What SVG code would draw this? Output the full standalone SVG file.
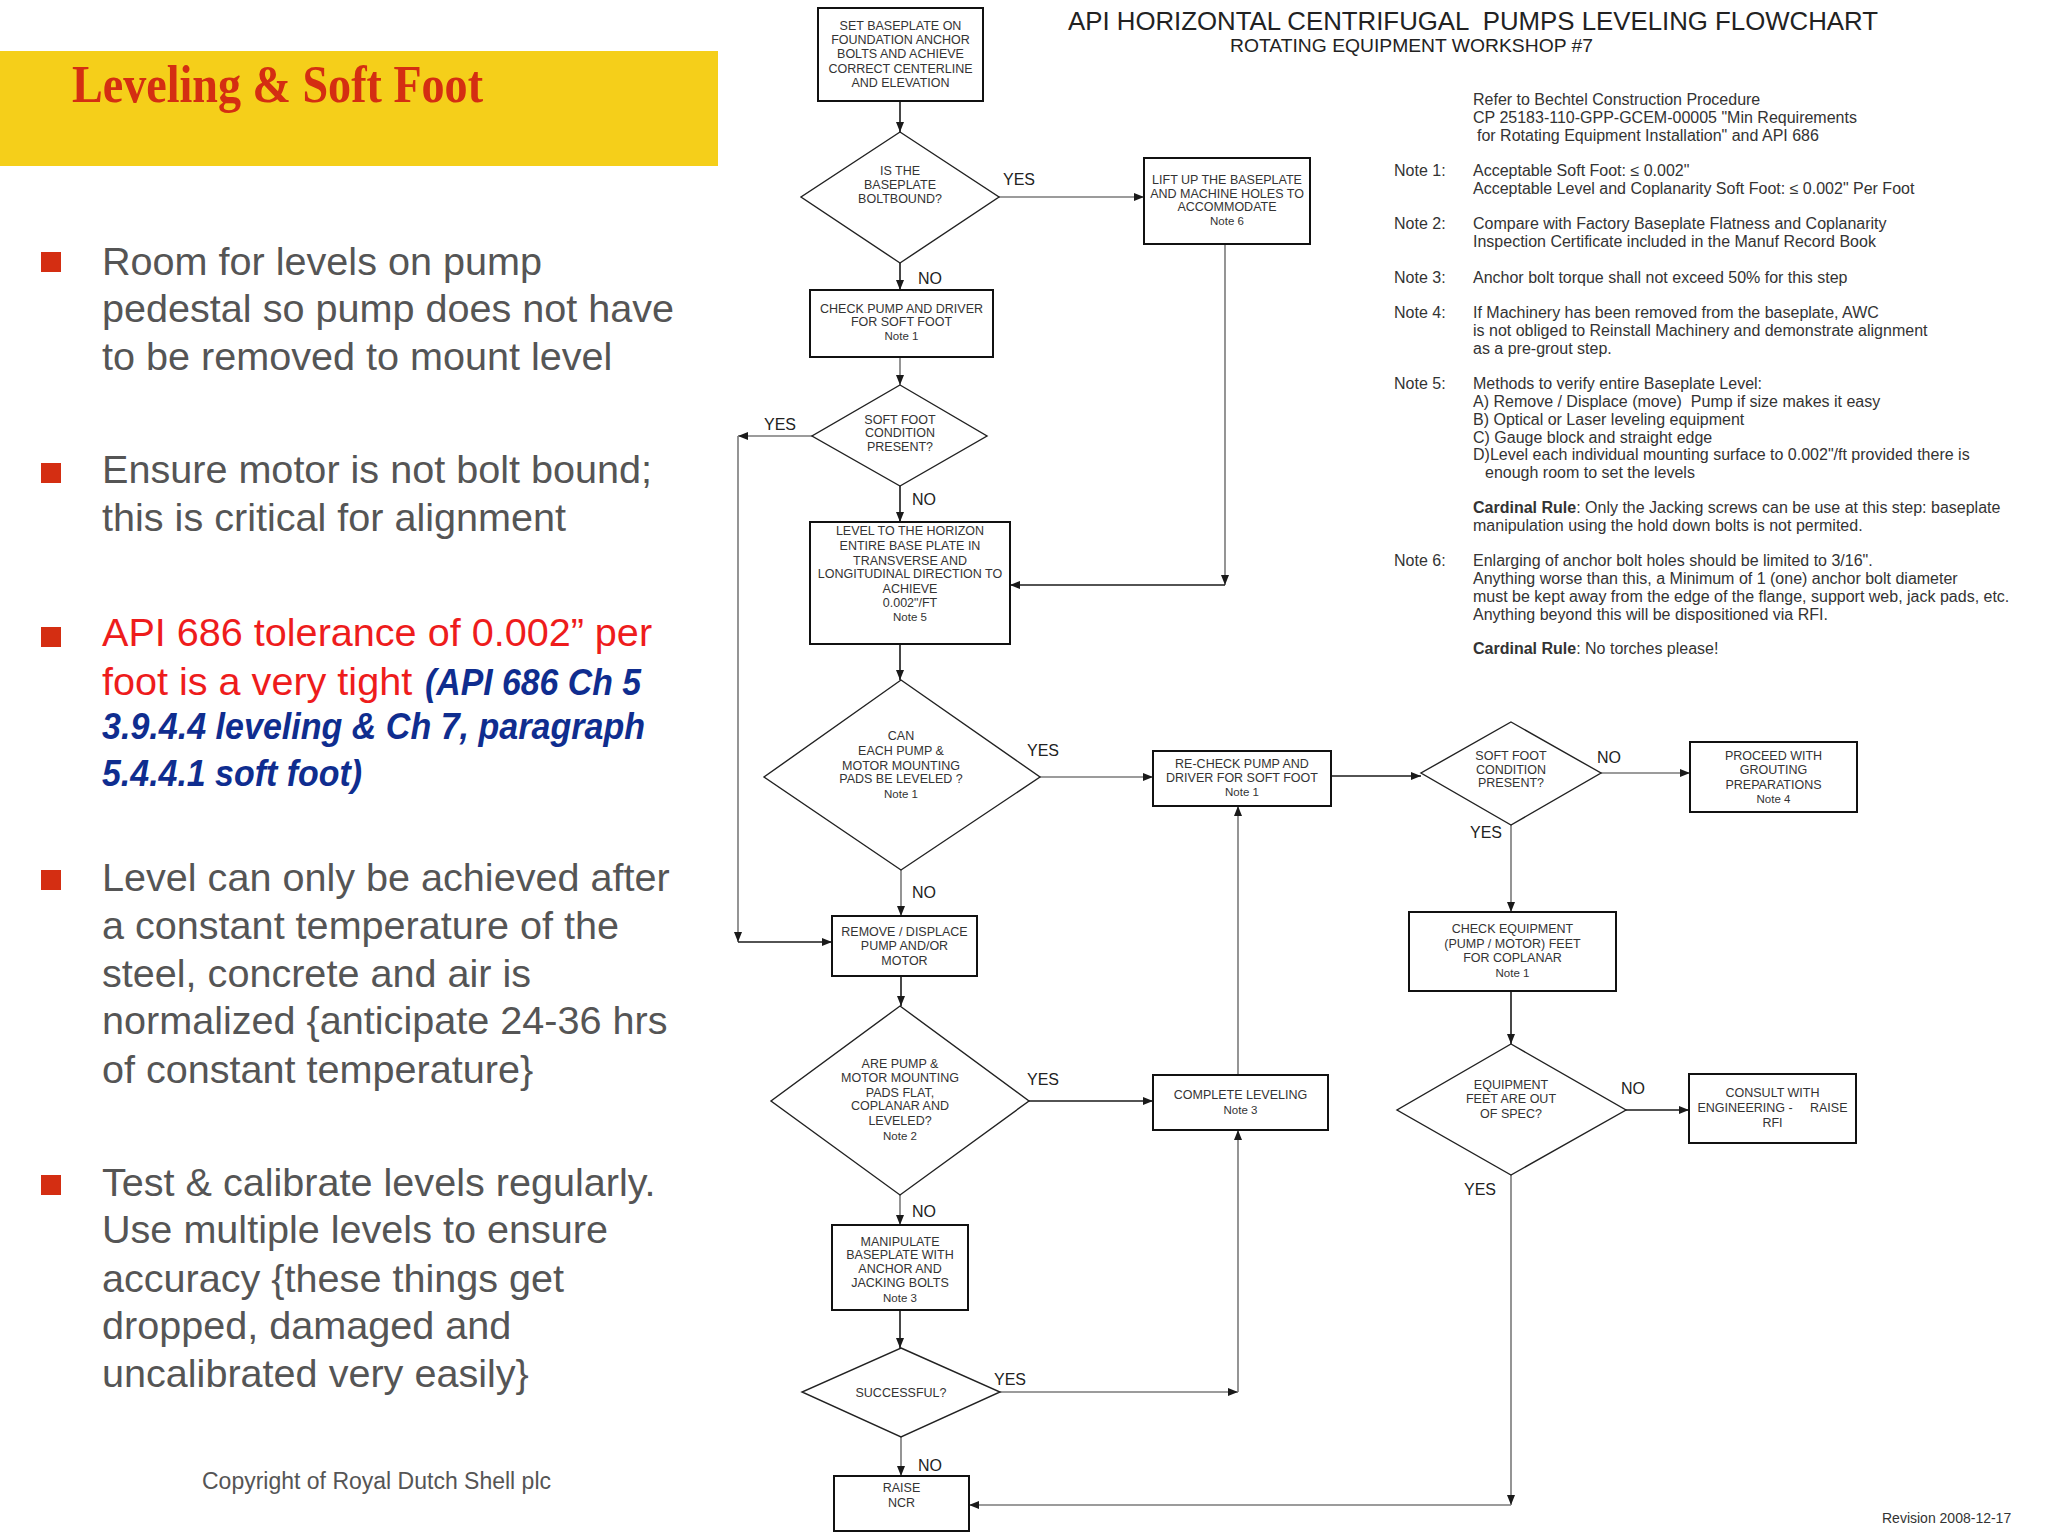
<svg xmlns="http://www.w3.org/2000/svg" width="2048" height="1536" viewBox="0 0 2048 1536">
<defs>
<marker id="ah" markerUnits="userSpaceOnUse" markerWidth="10" markerHeight="8" refX="10" refY="4" orient="auto"><path d="M0,0 L10,4 L0,8 z" fill="#1a1a1a"/></marker>
<style>
.box{fill:#fff;stroke:#111;stroke-width:2}
.dia{fill:#fff;stroke:#222;stroke-width:1.4}
.nt{font-family:"Liberation Sans",Arial,sans-serif;font-size:12.5px;fill:#333;text-anchor:middle}
.lbl{font-family:"Liberation Sans",Arial,sans-serif;font-size:16px;fill:#222}
.note{font-family:"Liberation Sans",Arial,sans-serif;font-size:16px;fill:#333}
.cd{stroke:#1a1a1a;stroke-width:1.6;fill:none;marker-end:url(#ah)}
.cg{stroke:#7a7a7a;stroke-width:1.6;fill:none;marker-end:url(#ah)}
.bul{font-family:"Liberation Sans",Arial,sans-serif;font-size:39.6px;fill:#555}
.sq{fill:#d42e12}
.ref{fill:#0f2d8f;font-weight:bold;font-style:italic;font-size:36px}
</style>
</defs>
<rect width="2048" height="1536" fill="#fff"/>
<g id="left-panel">
<rect x="0" y="51" width="718" height="115" fill="#f5cf1a"/>
<text x="72" y="102" font-family="'Liberation Serif',Georgia,serif" font-size="52" font-weight="bold" fill="#d42e12" textLength="411" lengthAdjust="spacingAndGlyphs">Leveling &amp; Soft Foot</text>
<rect class="sq" x="41" y="252" width="20" height="20"/>
<text class="bul"><tspan x="102" y="275">Room for levels on pump</tspan><tspan x="102" y="322">pedestal so pump does not have</tspan><tspan x="102" y="370">to be removed to mount level</tspan></text>
<rect class="sq" x="41" y="463" width="20" height="20"/>
<text class="bul"><tspan x="102" y="483">Ensure motor is not bolt bound;</tspan><tspan x="102" y="531">this is critical for alignment</tspan></text>
<rect class="sq" x="41" y="627" width="20" height="20"/>
<text class="bul"><tspan x="102" y="646" fill="#ee1c1c">API 686 tolerance of 0.002” per</tspan><tspan x="102" y="695" fill="#ee1c1c">foot is a very tight </tspan><tspan x="425" y="695" class="ref" textLength="216" lengthAdjust="spacingAndGlyphs">(API 686 Ch 5</tspan></text>
<text class="bul"><tspan x="102" y="739" class="ref" textLength="543" lengthAdjust="spacingAndGlyphs">3.9.4.4 leveling &amp; Ch 7, paragraph</tspan></text>
<text class="bul"><tspan x="102" y="786" class="ref" textLength="260" lengthAdjust="spacingAndGlyphs">5.4.4.1 soft foot)</tspan></text>
<rect class="sq" x="41" y="870" width="20" height="20"/>
<text class="bul"><tspan x="102" y="891">Level can only be achieved after</tspan><tspan x="102" y="939">a constant temperature of the</tspan><tspan x="102" y="987">steel, concrete and air is</tspan><tspan x="102" y="1034">normalized {anticipate 24-36 hrs</tspan><tspan x="102" y="1083">of constant temperature}</tspan></text>
<rect class="sq" x="41" y="1175" width="20" height="20"/>
<text class="bul"><tspan x="102" y="1196">Test &amp; calibrate levels regularly.</tspan><tspan x="102" y="1243">Use multiple levels to ensure</tspan><tspan x="102" y="1292">accuracy {these things get</tspan><tspan x="102" y="1339">dropped, damaged and</tspan><tspan x="102" y="1387">uncalibrated very easily}</tspan></text>
<text x="202" y="1489" font-family="'Liberation Sans',Arial,sans-serif" font-size="23" fill="#555">Copyright of Royal Dutch Shell plc</text>
</g>
<g id="chart-title">
<text x="1068" y="30" font-family="'Liberation Sans',Arial,sans-serif" font-size="25" fill="#222" textLength="810" lengthAdjust="spacingAndGlyphs" style="white-space:pre">API HORIZONTAL CENTRIFUGAL  PUMPS LEVELING FLOWCHART</text>
<text x="1230" y="52" font-family="'Liberation Sans',Arial,sans-serif" font-size="18" fill="#222" textLength="363" lengthAdjust="spacingAndGlyphs">ROTATING EQUIPMENT WORKSHOP #7</text>
</g>
<g id="notes" class="note">
<text x="1473" y="105">Refer to Bechtel Construction Procedure</text>
<text x="1473" y="123">CP 25183-110-GPP-GCEM-00005 "Min Requirements</text>
<text x="1477" y="141">for Rotating Equipment Installation" and API 686</text>
<text x="1394" y="176">Note 1:</text>
<text x="1473" y="176">Acceptable Soft Foot: ≤ 0.002"</text>
<text x="1473" y="194">Acceptable Level and Coplanarity Soft Foot: ≤ 0.002" Per Foot</text>
<text x="1394" y="229">Note 2:</text>
<text x="1473" y="229">Compare with Factory Baseplate Flatness and Coplanarity</text>
<text x="1473" y="247">Inspection Certificate included in the Manuf Record Book</text>
<text x="1394" y="283">Note 3:</text>
<text x="1473" y="283">Anchor bolt torque shall not exceed 50% for this step</text>
<text x="1394" y="318">Note 4:</text>
<text x="1473" y="318">If Machinery has been removed from the baseplate, AWC</text>
<text x="1473" y="336">is not obliged to Reinstall Machinery and demonstrate alignment</text>
<text x="1473" y="354">as a pre-grout step.</text>
<text x="1394" y="389">Note 5:</text>
<text x="1473" y="389">Methods to verify entire Baseplate Level:</text>
<text x="1473" y="407" style="white-space:pre">A) Remove / Displace (move)  Pump if size makes it easy</text>
<text x="1473" y="425">B) Optical or Laser leveling equipment</text>
<text x="1473" y="443">C) Gauge block and straight edge</text>
<text x="1473" y="460">D)Level each individual mounting surface to 0.002"/ft provided there is</text>
<text x="1485" y="478">enough room to set the levels</text>
<text x="1473" y="513"><tspan font-weight="bold">Cardinal Rule</tspan>: Only the Jacking screws can be use at this step: baseplate</text>
<text x="1473" y="531">manipulation using the hold down bolts is not permited.</text>
<text x="1394" y="566">Note 6:</text>
<text x="1473" y="566">Enlarging of anchor bolt holes should be limited to 3/16".</text>
<text x="1473" y="584">Anything worse than this, a Minimum of 1 (one) anchor bolt diameter</text>
<text x="1473" y="602">must be kept away from the edge of the flange, support web, jack pads, etc.</text>
<text x="1473" y="620">Anything beyond this will be dispositioned via RFI.</text>
<text x="1473" y="654"><tspan font-weight="bold">Cardinal Rule</tspan>: No torches please!</text>
<text x="1882" y="1523" font-size="14">Revision 2008-12-17</text>
</g>
<g id="connectors">
<path class="cd" d="M900,101 V132"/>
<path class="cg" d="M999,197 H1144"/>
<path class="cd" d="M900,263 V290"/>
<path class="cg" d="M900,357 V385"/>
<path class="cg" d="M812,436 H738"/>
<path class="cg" d="M738,436 V942"/>
<path class="cd" d="M738,942 H832"/>
<path class="cd" d="M900,486 V522"/>
<path class="cg" d="M1225,244 V585"/>
<path class="cd" d="M1225,585 H1010"/>
<path class="cd" d="M900,644 V680"/>
<path class="cg" d="M1040,777 H1153"/>
<path class="cd" d="M1331,776 H1421"/>
<path class="cg" d="M1601,773 H1690"/>
<path class="cg" d="M1511,825 V912"/>
<path class="cd" d="M1511,991 V1044"/>
<path class="cd" d="M1626,1110 H1689"/>
<path class="cg" d="M1511,1175 V1505"/>
<path class="cg" d="M1511,1505 H969"/>
<path class="cg" d="M901,870 V916"/>
<path class="cd" d="M901,976 V1006"/>
<path class="cd" d="M1029,1101 H1153"/>
<path class="cg" d="M1238,1075 V806"/>
<path class="cg" d="M900,1195 V1225"/>
<path class="cd" d="M900,1310 V1348"/>
<path class="cg" d="M1000,1392 H1238"/>
<path class="cg" d="M1238,1392 V1130"/>
<path class="cg" d="M901,1437 V1476"/>
</g>
<g id="edge-labels" class="lbl">
<text x="1003" y="185">YES</text>
<text x="918" y="284">NO</text>
<text x="764" y="430">YES</text>
<text x="912" y="505">NO</text>
<text x="1027" y="756">YES</text>
<text x="912" y="898">NO</text>
<text x="1597" y="763">NO</text>
<text x="1470" y="838">YES</text>
<text x="1621" y="1094">NO</text>
<text x="1464" y="1195">YES</text>
<text x="1027" y="1085">YES</text>
<text x="912" y="1217">NO</text>
<text x="994" y="1385">YES</text>
<text x="918" y="1471">NO</text>
</g>
<g id="n-set-baseplate"><rect class="box" x="818" y="8" width="165" height="93"/><text class="nt"><tspan x="900.5" y="30">SET BASEPLATE ON</tspan><tspan x="900.5" y="44">FOUNDATION ANCHOR</tspan><tspan x="900.5" y="58">BOLTS AND ACHIEVE</tspan><tspan x="900.5" y="72.5">CORRECT CENTERLINE</tspan><tspan x="900.5" y="87">AND ELEVATION</tspan></text></g>
<g id="n-boltbound"><polygon class="dia" points="900,132 999,197 900,263 801,197"/><text class="nt"><tspan x="900" y="174.5">IS THE</tspan><tspan x="900" y="188.5">BASEPLATE</tspan><tspan x="900" y="203">BOLTBOUND?</tspan></text></g>
<g id="n-lift"><rect class="box" x="1144" y="158" width="166" height="86"/><text class="nt"><tspan x="1227" y="183.5">LIFT UP THE BASEPLATE</tspan><tspan x="1227" y="197.5">AND MACHINE HOLES TO</tspan><tspan x="1227" y="211">ACCOMMODATE</tspan><tspan x="1227" y="225" font-size="11.5">Note 6</tspan></text></g>
<g id="n-check-pump"><rect class="box" x="810" y="290" width="183" height="67"/><text class="nt"><tspan x="901.5" y="312.5">CHECK PUMP AND DRIVER</tspan><tspan x="901.5" y="326">FOR SOFT FOOT</tspan><tspan x="901.5" y="340" font-size="11.5">Note 1</tspan></text></g>
<g id="n-softfoot-1"><polygon class="dia" points="900,385 987,436 900,486 812,436"/><text class="nt"><tspan x="900" y="423.5">SOFT FOOT</tspan><tspan x="900" y="437">CONDITION</tspan><tspan x="900" y="451">PRESENT?</tspan></text></g>
<g id="n-level-horizon"><rect class="box" x="810" y="522" width="200" height="122"/><text class="nt"><tspan x="910" y="534.5">LEVEL TO THE HORIZON</tspan><tspan x="910" y="550">ENTIRE BASE PLATE IN</tspan><tspan x="910" y="564.5">TRANSVERSE AND</tspan><tspan x="910" y="578">LONGITUDINAL DIRECTION TO</tspan><tspan x="910" y="592.5">ACHIEVE</tspan><tspan x="910" y="606.5">0.002"/FT</tspan><tspan x="910" y="620.5" font-size="11.5">Note 5</tspan></text></g>
<g id="n-can-level"><polygon class="dia" points="901,680 1040,777 901,870 764,777"/><text class="nt"><tspan x="901" y="739.5">CAN</tspan><tspan x="901" y="754.5">EACH PUMP &amp;</tspan><tspan x="901" y="769.5">MOTOR MOUNTING</tspan><tspan x="901" y="783">PADS BE LEVELED ?</tspan><tspan x="901" y="797.5" font-size="11.5">Note 1</tspan></text></g>
<g id="n-recheck"><rect class="box" x="1153" y="751" width="178" height="55"/><text class="nt"><tspan x="1242" y="767.5">RE-CHECK PUMP AND</tspan><tspan x="1242" y="781.5">DRIVER FOR SOFT FOOT</tspan><tspan x="1242" y="796" font-size="11.5">Note 1</tspan></text></g>
<g id="n-softfoot-2"><polygon class="dia" points="1511,722 1601,773 1511,825 1421,773"/><text class="nt"><tspan x="1511" y="759.5">SOFT FOOT</tspan><tspan x="1511" y="773.5">CONDITION</tspan><tspan x="1511" y="787">PRESENT?</tspan></text></g>
<g id="n-proceed"><rect class="box" x="1690" y="742" width="167" height="70"/><text class="nt"><tspan x="1773.5" y="759.5">PROCEED WITH</tspan><tspan x="1773.5" y="773.5">GROUTING</tspan><tspan x="1773.5" y="788.5">PREPARATIONS</tspan><tspan x="1773.5" y="802.5" font-size="11.5">Note 4</tspan></text></g>
<g id="n-check-equipment"><rect class="box" x="1409" y="912" width="207" height="79"/><text class="nt"><tspan x="1512.5" y="933">CHECK EQUIPMENT</tspan><tspan x="1512.5" y="947.5">(PUMP / MOTOR) FEET</tspan><tspan x="1512.5" y="961.5">FOR COPLANAR</tspan><tspan x="1512.5" y="976.5" font-size="11.5">Note 1</tspan></text></g>
<g id="n-out-of-spec"><polygon class="dia" points="1511,1044 1626,1110 1511,1175 1397,1110"/><text class="nt"><tspan x="1511" y="1088.5">EQUIPMENT</tspan><tspan x="1511" y="1102.5">FEET ARE OUT</tspan><tspan x="1511" y="1118">OF SPEC?</tspan></text></g>
<g id="n-consult"><rect class="box" x="1689" y="1074" width="167" height="69"/><text class="nt"><tspan x="1772.5" y="1096.5">CONSULT WITH</tspan><tspan x="1772.5" y="1112" style="white-space:pre">ENGINEERING -     RAISE</tspan><tspan x="1772.5" y="1126.5">RFI</tspan></text></g>
<g id="n-remove"><rect class="box" x="832" y="916" width="145" height="60"/><text class="nt"><tspan x="904.5" y="935.5">REMOVE / DISPLACE</tspan><tspan x="904.5" y="950">PUMP AND/OR</tspan><tspan x="904.5" y="964.5">MOTOR</tspan></text></g>
<g id="n-pads-flat"><polygon class="dia" points="900,1006 1029,1101 900,1195 771,1101"/><text class="nt"><tspan x="900" y="1067.5">ARE PUMP &amp;</tspan><tspan x="900" y="1082">MOTOR MOUNTING</tspan><tspan x="900" y="1096.5">PADS FLAT,</tspan><tspan x="900" y="1109.5">COPLANAR AND</tspan><tspan x="900" y="1125">LEVELED?</tspan><tspan x="900" y="1139.5" font-size="11.5">Note 2</tspan></text></g>
<g id="n-complete"><rect class="box" x="1153" y="1075" width="175" height="55"/><text class="nt"><tspan x="1240.5" y="1099">COMPLETE LEVELING</tspan><tspan x="1240.5" y="1113.5" font-size="11.5">Note 3</tspan></text></g>
<g id="n-manipulate"><rect class="box" x="832" y="1225" width="136" height="85"/><text class="nt"><tspan x="900" y="1245.5">MANIPULATE</tspan><tspan x="900" y="1259">BASEPLATE WITH</tspan><tspan x="900" y="1273">ANCHOR AND</tspan><tspan x="900" y="1287">JACKING BOLTS</tspan><tspan x="900" y="1301.5" font-size="11.5">Note 3</tspan></text></g>
<g id="n-successful"><polygon class="dia" points="901,1348 1000,1392 901,1437 802,1392"/><text class="nt"><tspan x="901" y="1396.5">SUCCESSFUL?</tspan></text></g>
<g id="n-raise-ncr"><rect class="box" x="834" y="1476" width="135" height="55"/><text class="nt"><tspan x="901.5" y="1492">RAISE</tspan><tspan x="901.5" y="1506.5">NCR</tspan></text></g>
</svg>
